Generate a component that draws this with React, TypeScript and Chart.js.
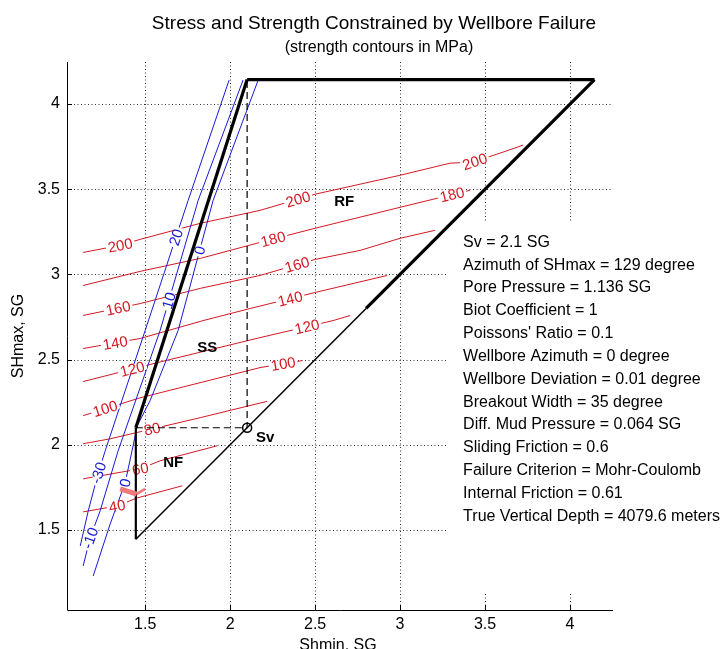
import React, { useEffect, useRef } from 'react';
import { Chart, registerables } from 'chart.js';

Chart.register(...registerables);

const FONT = '"Liberation Sans", Arial, Helvetica, sans-serif';

// axes
const xTickValues = [1.5, 2, 2.5, 3, 3.5, 4];
const yTickValues = [1.5, 2, 2.5, 3, 3.5, 4];
const xLimits = [1.04, 4.253];
const yLimits = [1.03, 4.247];

// stress polygon (SG)
const nfEdge = [[1.445, 1.445], [1.445, 2.1]];
const ssEdge = [[1.445, 2.1], [2.1, 4.144]];
const rfEdge = [[2.1, 4.144], [4.144, 4.144]];
const diagonalUpper = [[2.8, 2.8], [4.144, 4.144]];
const diagonalLower = [[1.445, 1.445], [2.8, 2.8]];
const svGuide = [[1.445, 2.1], [2.1, 2.1], [2.1, 4.144]];
const svPoint = [[2.1, 2.1]];
const markBar = [[1.353, 1.741], [1.45, 1.71]];
const markTail = [[1.45, 1.71], [1.5, 1.741]];

// strength contours (MPa)
const strengthLevels = [200, 180, 160, 140, 120, 100, 80, 60, 40];
const strength200 = [[1.135, 3.129], [1.353, 3.171], [1.471, 3.206], [1.824, 3.3], [2.176, 3.376], [2.5, 3.471], [3.0, 3.582], [3.294, 3.653], [3.429, 3.659], [3.606, 3.718], [3.724, 3.759]];
const strength180 = [[1.135, 2.935], [1.471, 3.018], [1.824, 3.094], [2.176, 3.188], [2.5, 3.271], [3.0, 3.394], [3.218, 3.447], [3.412, 3.494]];
const strength160 = [[1.135, 2.759], [1.471, 2.829], [1.824, 2.918], [2.176, 2.994], [2.5, 3.088], [2.765, 3.141], [3.0, 3.212], [3.206, 3.259]];
const strength140 = [[1.135, 2.565], [1.471, 2.624], [1.841, 2.729], [2.118, 2.8], [2.5, 2.894], [2.924, 2.994]];
const strength120 = [[1.135, 2.371], [1.571, 2.482], [2.176, 2.629], [2.606, 2.729], [2.706, 2.759]];
const strength100 = [[1.135, 2.171], [1.471, 2.276], [2.176, 2.453], [2.424, 2.494]];
const strength80 = [[1.135, 2.006], [1.294, 2.035], [1.824, 2.159], [2.218, 2.255]];
const strength60 = [[1.135, 1.8], [1.471, 1.859], [1.588, 1.906], [1.924, 1.994]];
const strength40 = [[1.135, 1.606], [1.335, 1.641], [1.453, 1.688], [1.718, 1.759]];
const strengthLabelX = [[1.353, 2.4, 3.44], [2.253, 3.306], [1.341, 2.394], [1.324, 2.353], [1.424, 2.453], [1.265, 2.312], [1.541], [1.471], [1.335]];

// tensile contours (MPa)
const tensileA = [[1.994, 4.141], [1.753, 3.435], [1.5, 2.671], [1.265, 1.965], [1.224, 1.835], [1.165, 1.612], [1.118, 1.406]];
const tensileB = [[2.076, 4.141], [1.812, 3.435], [1.588, 2.671], [1.341, 1.965], [1.235, 1.612], [1.176, 1.453], [1.135, 1.288]];
const tensileC = [[2.165, 4.141], [1.9, 3.435], [1.694, 2.671], [1.529, 2.259], [1.453, 2.112], [1.429, 1.994], [1.382, 1.776], [1.294, 1.535], [1.194, 1.229]];
const tensileLabelTexts = [['20', '-30'], ['10', '-10'], ['0', '0']];
const tensileLabelY = [[3.218, 1.835], [2.847, 1.453], [3.141, 1.776]];

// region labels
const regionTexts = ['RF', 'SS', 'NF', 'Sv'];
const regionX = [2.671, 1.865, 1.665, 2.206];
const regionY = [3.424, 2.571, 1.894, 2.041];

const titleText = 'Stress and Strength Constrained by Wellbore Failure';
const subtitleText = '(strength contours in MPa)';
const xTitle = 'Shmin, SG';
const yTitle = 'SHmax, SG';

const infoLines = [
  'Sv = 2.1 SG',
  'Azimuth of SHmax = 129 degree',
  'Pore Pressure = 1.136 SG',
  'Biot Coefficient = 1',
  "Poissons' Ratio = 0.1",
  'Wellbore Azimuth = 0 degree',
  'Wellbore Deviation = 0.01 degree',
  'Breakout Width = 35 degree',
  'Diff. Mud Pressure = 0.064 SG',
  'Sliding Friction = 0.6',
  'Failure Criterion = Mohr-Coulomb',
  'Internal Friction = 0.61',
  'True Vertical Depth = 4079.6 meters',
];

const RED = 'rgb(210,25,35)';
const BLUE = 'rgb(25,25,210)';

const strengthLines = [strength200, strength180, strength160, strength140, strength120, strength100, strength80, strength60, strength40];
const tensileLines = [tensileA, tensileB, tensileC];

const toPts = (a: number[][]) => a.map(([x, y]) => ({ x, y }));

function interp(pts: number[][], key: number, val: number) {
  for (let i = 0; i < pts.length - 1; i++) {
    const a = pts[i][key], b = pts[i + 1][key];
    if ((val - a) * (val - b) <= 0 && a !== b) {
      const t = (val - a) / (b - a);
      return { x: pts[i][0] + t * (pts[i + 1][0] - pts[i][0]), y: pts[i][1] + t * (pts[i + 1][1] - pts[i][1]), i };
    }
  }
  return null;
}

export default function App() {
  const ref = useRef<HTMLCanvasElement>(null);

  useEffect(() => {
    const lineDs = (data: number[][], color: string, width: number, extra: any = {}) => ({
      data: toPts(data),
      showLine: true,
      borderColor: color,
      backgroundColor: color,
      borderWidth: width,
      pointRadius: 0,
      fill: false,
      tension: 0,
      ...extra,
    });

    const datasets: any[] = [
      lineDs(markBar, 'rgb(240,120,120)', 5),
      lineDs(markTail, 'rgb(240,120,120)', 2.5),
      {
        data: toPts(svPoint),
        showLine: false,
        pointRadius: 4.5,
        pointBorderWidth: 1.5,
        pointBorderColor: '#000',
        pointBackgroundColor: 'rgba(0,0,0,0)',
      },
      lineDs(ssEdge, '#000', 3.2),
      lineDs(rfEdge, '#000', 3.2),
      lineDs(diagonalUpper, '#000', 3.2),
      lineDs(nfEdge, '#000', 2.2),
      lineDs(diagonalLower, '#000', 1.5),
      lineDs(svGuide, '#000', 1.2, { borderDash: [7, 4] }),
    ];
    const firstContourIndex = datasets.length;
    tensileLines.forEach((l) => datasets.push(lineDs(l, BLUE, 1)));
    strengthLines.forEach((l) => datasets.push(lineDs(l, RED, 1)));

    const drawContourLabel = (ctx: CanvasRenderingContext2D, xs: any, ys: any, pts: number[][], key: number, val: number, text: string, color: string) => {
      const p = interp(pts, key, val);
      if (!p) return;
      const a = pts[p.i], b = pts[p.i + 1];
      const px = xs.getPixelForValue(p.x), py = ys.getPixelForValue(p.y);
      let ang = Math.atan2(ys.getPixelForValue(b[1]) - ys.getPixelForValue(a[1]), xs.getPixelForValue(b[0]) - xs.getPixelForValue(a[0]));
      if (ang > Math.PI / 2) ang -= Math.PI;
      if (ang < -Math.PI / 2) ang += Math.PI;
      ctx.save();
      ctx.translate(px, py);
      ctx.rotate(ang);
      ctx.font = `15px ${FONT}`;
      const w = ctx.measureText(text).width;
      ctx.fillStyle = '#fff';
      ctx.fillRect(-w / 2 - 2, -4, w + 4, 8);
      ctx.fillStyle = color;
      ctx.textAlign = 'center';
      ctx.textBaseline = 'middle';
      ctx.fillText(text, 0, 1);
      ctx.restore();
    };

    const overlay = {
      id: 'overlay',
      beforeDatasetsDraw(chart: any) {
        const { ctx, chartArea: a, scales } = chart;
        const xs = scales.x, ys = scales.y;
        ctx.save();
        ctx.strokeStyle = '#333';
        ctx.lineWidth = 1;
        ctx.setLineDash([1, 2.5]);
        xTickValues.forEach((v) => {
          const px = Math.round(xs.getPixelForValue(v)) + 0.5;
          ctx.beginPath(); ctx.moveTo(px, a.top); ctx.lineTo(px, a.bottom); ctx.stroke();
        });
        yTickValues.forEach((v) => {
          const py = Math.round(ys.getPixelForValue(v)) + 0.5;
          ctx.beginPath(); ctx.moveTo(a.left, py); ctx.lineTo(a.right, py); ctx.stroke();
        });
        ctx.setLineDash([]);
        // info box background
        ctx.fillStyle = '#fff';
        ctx.fillRect(447, 223, 728 - 447, 592 - 223);
        ctx.restore();
      },
      afterDatasetDraw(chart: any, args: any) {
        if (args.index !== firstContourIndex) return;
        const { ctx, scales } = chart;
        const xs = scales.x, ys = scales.y;
        strengthLines.forEach((pts, li) => {
          strengthLabelX[li].forEach((xv) => drawContourLabel(ctx, xs, ys, pts, 0, xv, String(strengthLevels[li]), RED));
        });
        tensileLines.forEach((pts, li) => {
          tensileLabelY[li].forEach((yv, k) => drawContourLabel(ctx, xs, ys, pts, 1, yv, tensileLabelTexts[li][k], BLUE));
        });
      },
      afterDatasetsDraw(chart: any) {
        const { ctx, chartArea: a, scales } = chart;
        const xs = scales.x, ys = scales.y;
        ctx.save();
        // axes lines
        ctx.strokeStyle = '#000';
        ctx.lineWidth = 1;
        ctx.beginPath();
        ctx.moveTo(a.left + 0.5, a.top);
        ctx.lineTo(a.left + 0.5, a.bottom + 0.5);
        ctx.lineTo(a.right, a.bottom + 0.5);
        ctx.stroke();
        // inward ticks
        xTickValues.forEach((v) => {
          const px = Math.round(xs.getPixelForValue(v)) + 0.5;
          ctx.beginPath(); ctx.moveTo(px, a.bottom); ctx.lineTo(px, a.bottom - 5); ctx.stroke();
        });
        yTickValues.forEach((v) => {
          const py = Math.round(ys.getPixelForValue(v)) + 0.5;
          ctx.beginPath(); ctx.moveTo(a.left, py); ctx.lineTo(a.left + 5, py); ctx.stroke();
        });
        // region labels
        ctx.fillStyle = '#000';
        ctx.font = `bold 15px ${FONT}`;
        ctx.textAlign = 'center';
        ctx.textBaseline = 'middle';
        regionTexts.forEach((t, i) => {
          ctx.fillText(t, xs.getPixelForValue(regionX[i]), ys.getPixelForValue(regionY[i]));
        });
        // info text
        ctx.font = `16px ${FONT}`;
        ctx.textAlign = 'left';
        ctx.textBaseline = 'middle';
        const ix = xs.getPixelForValue(3.371);
        const iy = ys.getPixelForValue(3.188);
        infoLines.forEach((t, i) => ctx.fillText(t, ix, iy + i * 22.83));
        // titles
        ctx.textAlign = 'center';
        ctx.textBaseline = 'alphabetic';
        ctx.font = `19px ${FONT}`;
        ctx.fillText(titleText, 374, 29);
        ctx.font = `16px ${FONT}`;
        ctx.fillText(subtitleText, 379, 52);
        ctx.fillText(xTitle, 338, 650);
        ctx.save();
        ctx.translate(23, 336);
        ctx.rotate(-Math.PI / 2);
        ctx.fillText(yTitle, 0, 0);
        ctx.restore();
        ctx.restore();
      },
    };

    const tickFont = { family: FONT, size: 16 };
    const chart = new Chart(ref.current!, {
      type: 'scatter',
      data: { datasets },
      options: {
        responsive: false,
        animation: false,
        devicePixelRatio: 1,
        events: [],
        layout: { padding: { top: 62, right: 115, left: 0, bottom: 0 } },
        plugins: { legend: { display: false }, tooltip: { enabled: false }, title: { display: false } },
        scales: {
          x: {
            type: 'linear',
            min: xLimits[0],
            max: xLimits[1],
            grid: { display: false, drawTicks: false },
            border: { display: false },
            ticks: { color: '#000', font: tickFont, padding: 5, maxRotation: 0, autoSkip: false, callback: (v: any) => String(v) },
            afterBuildTicks: (s: any) => { s.ticks = xTickValues.map((v) => ({ value: v })); },
            afterFit: (s: any) => { s.height = 39; },
          },
          y: {
            type: 'linear',
            min: yLimits[0],
            max: yLimits[1],
            grid: { display: false, drawTicks: false },
            border: { display: false },
            ticks: { color: '#000', font: tickFont, padding: 7, autoSkip: false, callback: (v: any) => String(v) },
            afterBuildTicks: (s: any) => { s.ticks = yTickValues.map((v) => ({ value: v })); },
            afterFit: (s: any) => { s.width = 67; },
          },
        },
      } as any,
      plugins: [overlay],
    });
    return () => chart.destroy();
  }, []);

  return (
    <div style={{ position: 'absolute', left: 0, top: 0, width: 728, height: 649, background: '#fff' }}>
      <canvas ref={ref} width={728} height={649} style={{ display: 'block' }} />
    </div>
  );
}
